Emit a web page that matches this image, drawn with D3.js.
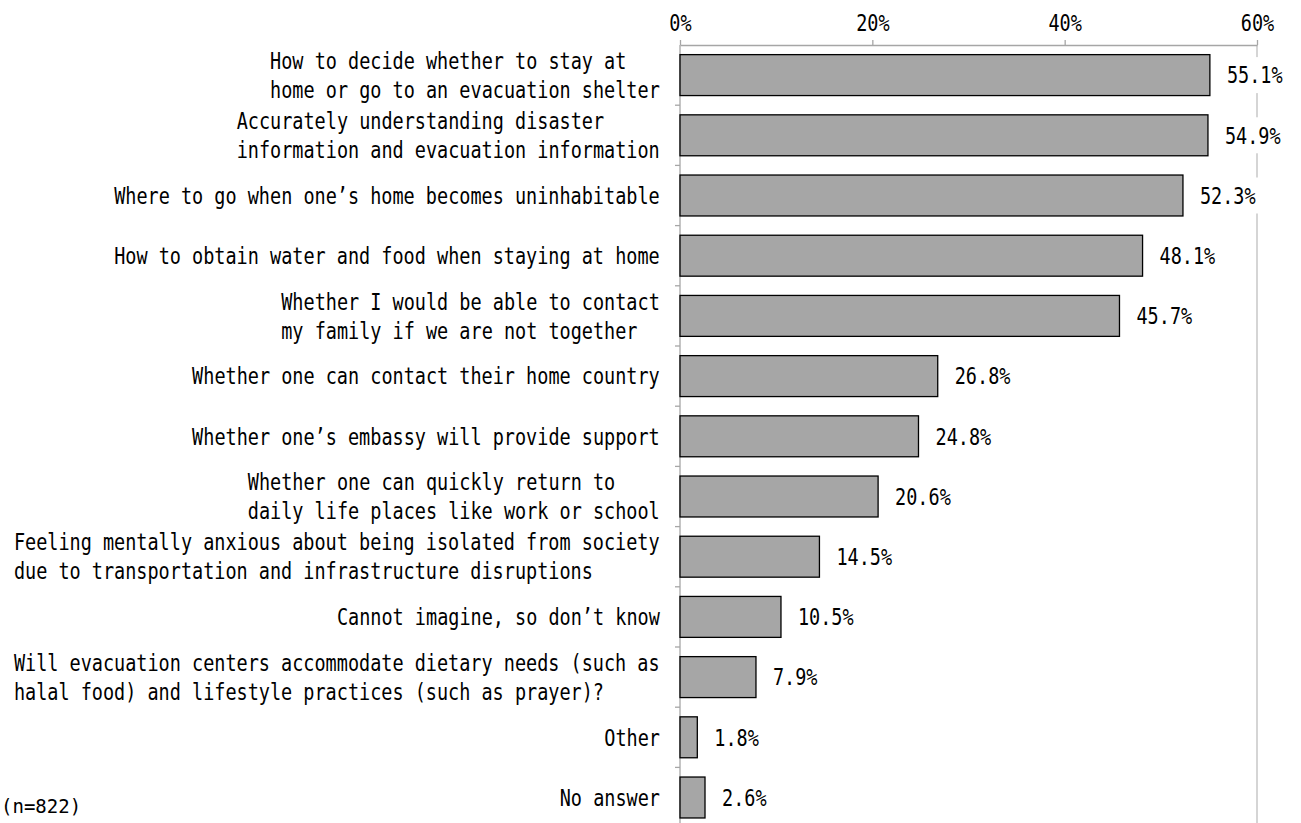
<!DOCTYPE html>
<html>
<head>
<meta charset="utf-8">
<script src="https://cdn.jsdelivr.net/npm/d3@7"></script>
<style>
  body { margin: 0; background: #fff; }
  text { font-family: "DejaVu Sans Mono", monospace; fill: #000; }
</style>
</head>
<body>
<svg id="chart"></svg>
<script>
// Categories (each entry is the list of lines shown on the axis)
const categories = [
  ["How to decide whether to stay at", "home or go to an evacuation shelter"],
  ["Accurately understanding disaster", "information and evacuation information"],
  ["Where to go when one’s home becomes uninhabitable"],
  ["How to obtain water and food when staying at home"],
  ["Whether I would be able to contact", "my family if we are not together"],
  ["Whether one can contact their home country"],
  ["Whether one’s embassy will provide support"],
  ["Whether one can quickly return to", "daily life places like work or school"],
  ["Feeling mentally anxious about being isolated from society", "due to transportation and infrastructure disruptions"],
  ["Cannot imagine, so don’t know"],
  ["Will evacuation centers accommodate dietary needs (such as", "halal food) and lifestyle practices (such as prayer)?"],
  ["Other"],
  ["No answer"]
];
const values = [55.1, 54.9, 52.3, 48.1, 45.7, 26.8, 24.8, 20.6, 14.5, 10.5, 7.9, 1.8, 2.6];
const xTicks = [0, 20, 40, 60];
const note = "(n=822)";

const W = 1301, H = 823;
const fontSize = 23;
const charW = 11.14;                      // narrow monospace cell width
const sx = charW / (0.602 * fontSize);    // horizontal squeeze of DejaVu Sans Mono
const lineH = 29;
const labelGap = 17;

const svg = d3.select("#chart").attr("width", W).attr("height", H);

// Scales
const x = d3.scaleLinear().domain([0, 60]).range([680, 1257]);
const y = d3
  .scaleBand()
  .domain(d3.range(categories.length))
  .range([45, 45 + 13 * 60.2])
  .paddingInner(0.32)
  .paddingOuter(0.16);

// helper: narrow text placed at (px, py), squeezed horizontally
function narrowText(parent, str, px, py, anchor) {
  return parent
    .append("g")
    .attr("transform", `translate(${px},${py}) scale(${sx},1)`)
    .append("text")
    .attr("text-anchor", anchor || "start")
    .attr("dy", "0.36em")
    .attr("font-size", fontSize)
    .text(str);
}

// gridline at the max tick (plot area right edge)
svg
  .append("line")
  .attr("x1", x(60)).attr("x2", x(60))
  .attr("y1", y.range()[0]).attr("y2", y.range()[1])
  .attr("stroke", "#bfbfbf")
  .attr("stroke-width", 1.3);

// Top axis
const xAxis = svg
  .append("g")
  .attr("transform", "translate(0,45)")
  .call(
    d3.axisTop(x)
      .tickValues(xTicks)
      .tickSizeInner(5)
      .tickSizeOuter(0)
      .tickPadding(9)
      .tickFormat((d) => d + "%")
  );
xAxis.select(".domain").attr("stroke", "#a6a6a6").attr("stroke-width", 1.3);
xAxis.selectAll(".tick line").attr("stroke", "#a6a6a6").attr("stroke-width", 1.3);
xAxis
  .selectAll(".tick text")
  .attr("font-family", "DejaVu Sans Mono")
  .attr("font-size", fontSize)
  .attr("fill", "#000")
  .attr("transform", `scale(${sx},1)`);

// Left axis line with ticks at band boundaries
svg
  .append("line")
  .attr("x1", x(0)).attr("x2", x(0))
  .attr("y1", y.range()[0]).attr("y2", y.range()[1])
  .attr("stroke", "#a6a6a6")
  .attr("stroke-width", 1.3);
svg
  .selectAll(".ytick")
  .data(d3.range(1, categories.length + 1))
  .enter()
  .append("line")
  .attr("class", "ytick")
  .attr("x1", x(0) - 5).attr("x2", x(0))
  .attr("y1", (i) => y.range()[0] + i * y.step())
  .attr("y2", (i) => y.range()[0] + i * y.step())
  .attr("stroke", "#a6a6a6")
  .attr("stroke-width", 1.3);

// Bars
svg
  .selectAll(".bar")
  .data(values)
  .enter()
  .append("rect")
  .attr("class", "bar")
  .attr("x", x(0))
  .attr("y", (d, i) => y(i))
  .attr("width", (d) => x(d) - x(0))
  .attr("height", y.bandwidth())
  .attr("fill", "#a6a6a6")
  .attr("stroke", "#000")
  .attr("stroke-width", 1.3);

// Data labels
const labelG = svg.append("g");
values.forEach((v, i) => {
  const lx = x(v) + labelGap;
  const ly = y(i) + y.bandwidth() / 2;
  // white box only where a label sits over the 60% line
  if (lx + 5 * charW + 6 > x(60)) {
    labelG
      .append("rect")
      .attr("x", lx - 4)
      .attr("y", ly - 18)
      .attr("width", 5 * charW + 8)
      .attr("height", 36)
      .attr("fill", "#fff");
  }
  narrowText(labelG, v.toFixed(1) + "%", lx, ly);
});

// Category labels
const catG = svg.append("g");
categories.forEach((lines, i) => {
  const maxLen = d3.max(lines, (s) => s.length) * charW;
  const left = 660 - maxLen;
  const cy = y(i) + y.bandwidth() / 2;
  const first = cy - ((lines.length - 1) * lineH) / 2;
  lines.forEach((s, k) => {
    narrowText(catG, s, left, first + k * lineH);
  });
});

// sample size note
svg
  .append("text")
  .attr("x", 1)
  .attr("y", 806)
  .attr("dy", "0.36em")
  .attr("font-size", 19)
  .text(note);
</script>
</body>
</html>
